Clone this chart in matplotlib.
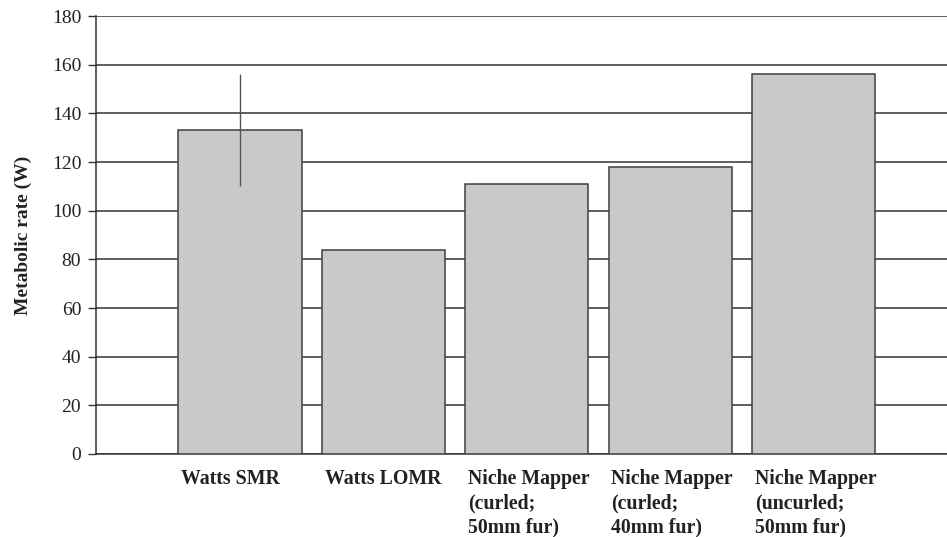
import matplotlib.pyplot as plt
import numpy as np

labels = ['Watts SMR', 'Watts LOMR', 'Niche Mapper\n(curled;\n50mm fur)',
          'Niche Mapper\n(curled;\n40mm fur)', 'Niche Mapper\n(uncurled;\n50mm fur)']
values = [133, 84, 111, 118, 156]
errors = [23, 0, 0, 0, 0]
yticks = [0, 20, 40, 60, 80, 100, 120, 140, 160, 180]

plt.rcParams['font.family'] = ['Liberation Serif', 'DejaVu Serif']

fig = plt.figure(figsize=(9.47, 5.37), dpi=100)
ax = fig.add_axes([0.1019, 0.1546, 0.8981, 0.8154])

x = np.arange(len(values))
ax.bar(x, values, width=0.86, color='#c8c9cb', edgecolor='#3f3f3f', linewidth=1.1, zorder=3)
# only the first bar has an error bar
ax.errorbar(x[0], values[0], yerr=errors[0], fmt='none', ecolor='#555555',
            elinewidth=1.0, capsize=0, zorder=4)

ax.set_ylim(0, 180)
ax.set_xlim(-1.0, 4.93)
ax.set_yticks(yticks)
ax.tick_params(axis='y', direction='out', length=6, width=1, color='#333333',
               labelsize=14, pad=5, labelcolor='#222222')
ax.yaxis.grid(True, color='#333333', linewidth=1.1, zorder=0)
ax.set_axisbelow(True)

ax.set_xticks(x - 0.41)
ax.set_xticklabels(labels, ha='left', va='top', fontweight='bold', fontsize=14.3,
                   linespacing=1.27, color='#222222')
ax.tick_params(axis='x', length=0, pad=11)

for s in ['top', 'right']:
    ax.spines[s].set_visible(False)
for s in ['left', 'bottom']:
    ax.spines[s].set_color('#333333')
    ax.spines[s].set_linewidth(1.1)

ax.set_ylabel('Metabolic rate (W)', fontweight='bold', fontsize=14, color='#222222', labelpad=14)

plt.savefig('out.png', dpi=100)
